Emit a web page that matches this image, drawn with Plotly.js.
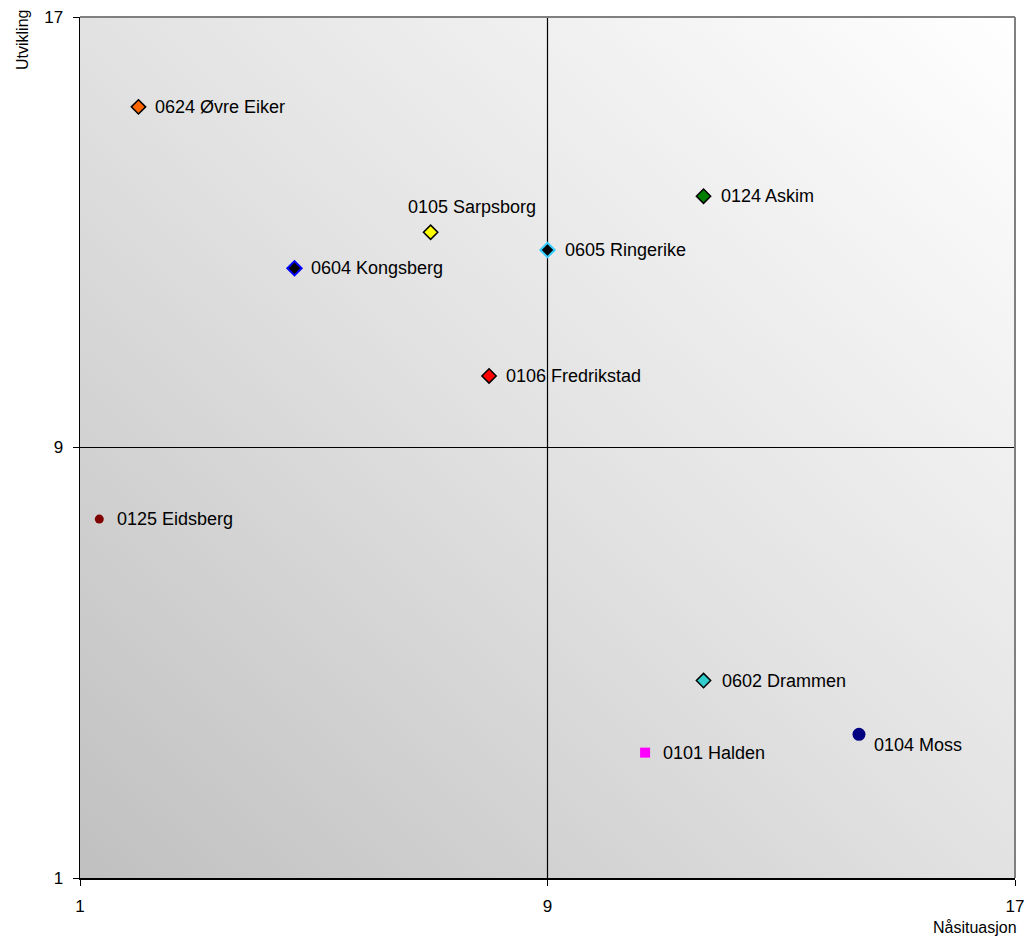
<!DOCTYPE html>
<html>
<head>
<meta charset="utf-8">
<script src="https://cdn.plot.ly/plotly-3.0.1.min.js"></script>
<style>html,body{margin:0;padding:0;background:#fff;}#chart{width:1030px;height:940px;}</style>
</head>
<body>
<div id="chart"></div>
<script>
// Data
const names = ["0624 Øvre Eiker","0124 Askim","0105 Sarpsborg","0605 Ringerike","0604 Kongsberg","0106 Fredrikstad","0125 Eidsberg","0602 Drammen","0104 Moss","0101 Halden"];
const nasituasjon = [2.0, 11.67, 7.0, 9.0, 4.67, 8.0, 1.33, 11.67, 14.33, 10.67];
const utvikling = [15.33, 13.67, 13.0, 12.67, 12.33, 10.33, 7.67, 4.67, 3.67, 3.33];
const tickVals = [1, 9, 17];
const tickLabels = ["1", "9", "17"];

// Styles
const symbols = ["diamond","diamond","diamond","diamond","diamond","diamond","circle","diamond","circle","square"];
const fills = ["#ff6600","#008000","#ffff00","#000000","#000000","#ff0000","#800000","#33cccc","#000080","#ff00ff"];
const lineColors = ["#000000","#000000","#000000","#33ccff","#0000ff","#000000","#800000","#000000","#000080","#ff00ff"];
const lineWidths = [1.5,1.5,1.5,2,2,1.5,0,1.5,0,0];
const sizes = [11,11,11,11,11,11,9,11,13,10];
// label offsets (px): [xshift, yshift, xanchor]
const labelOffsets = [[15,0,"left"],[15,0,"left"],[41,25,"center"],[15,0,"left"],[15,0,"left"],[15,0,"left"],[16,0,"left"],[16,0,"left"],[13,-11,"left"],[16,0,"left"]];

const FONT = "Liberation Sans, Arial, sans-serif";

const trace = {
  type: "scatter", mode: "markers",
  x: nasituasjon, y: utvikling, text: names,
  hoverinfo: "text",
  marker: {symbol: symbols, color: fills, size: sizes, opacity: 1, line: {color: lineColors, width: lineWidths}},
  showlegend: false,
  cliponaxis: false
};

const annotations = names.map((n, i) => ({
  x: nasituasjon[i], y: utvikling[i], xref: "x", yref: "y",
  text: n, showarrow: false,
  xanchor: labelOffsets[i][2], yanchor: "middle",
  xshift: labelOffsets[i][0], yshift: labelOffsets[i][1],
  font: {family: FONT, size: 18, color: "#000"}
}));
annotations.push({
  xref: "paper", yref: "paper", x: 0, y: 1, xshift: -58, yshift: 9,
  xanchor: "center", yanchor: "top", textangle: -90,
  text: "Utvikling", showarrow: false,
  font: {family: FONT, size: 16, color: "#000"}
});
annotations.push({
  xref: "paper", yref: "paper", x: 1, y: 0, xshift: 4, yshift: -39,
  xanchor: "right", yanchor: "top",
  text: "Nåsituasjon", showarrow: false,
  font: {family: FONT, size: 16, color: "#000"}
});

const gradSvg = '<svg xmlns="http://www.w3.org/2000/svg" width="935" height="861" viewBox="0 0 935 861" preserveAspectRatio="none">' +
  '<defs><linearGradient id="g" x1="0" y1="1" x2="1" y2="0">' +
  '<stop offset="0" stop-color="#c0c0c0"/><stop offset="0.5" stop-color="#e2e2e2"/><stop offset="1" stop-color="#ffffff"/></linearGradient></defs>' +
  '<rect width="935" height="861" fill="url(#g)"/></svg>';
const gradUri = "data:image/svg+xml;base64," + btoa(gradSvg);

const layout = {
  width: 1030, height: 940,
  margin: {l: 80, r: 15, t: 17, b: 62},
  paper_bgcolor: "#ffffff",
  plot_bgcolor: "rgba(0,0,0,0)",
  font: {family: FONT, size: 16, color: "#000"},
  xaxis: {
    range: [1, 17], tickvals: tickVals, ticktext: tickLabels,
    showgrid: false, zeroline: false,
    showline: true, linecolor: "#000", linewidth: 1.5,
    ticks: "outside", ticklen: 6, tickcolor: "#000", tickwidth: 1,
    tickfont: {family: FONT, size: 17, color: "#000"},
    ticklabelstandoff: 6,
    fixedrange: true
  },
  yaxis: {
    range: [1, 17], tickvals: tickVals, ticktext: tickLabels,
    showgrid: false, zeroline: false,
    showline: true, linecolor: "#000", linewidth: 1.5,
    ticks: "outside", ticklen: 6, tickcolor: "#000", tickwidth: 1,
    tickfont: {family: FONT, size: 17, color: "#000"},
    ticklabelstandoff: 6,
    fixedrange: true
  },
  images: [{
    source: gradUri, xref: "paper", yref: "paper",
    x: 0, y: 1, sizex: 1, sizey: 1, xanchor: "left", yanchor: "top",
    sizing: "stretch", layer: "below"
  }],
  shapes: [
    {type: "line", xref: "x", yref: "paper", x0: 9, x1: 9, y0: 0, y1: 1, line: {color: "#000", width: 1.2}, layer: "below"},
    {type: "line", xref: "paper", yref: "y", x0: 0, x1: 1, y0: 9, y1: 9, line: {color: "#000", width: 1.2}, layer: "below"},
    {type: "line", xref: "paper", yref: "paper", x0: 0, x1: 1, y0: 1, y1: 1, line: {color: "#808080", width: 2}},
    {type: "line", xref: "paper", yref: "paper", x0: 1, x1: 1, y0: 0, y1: 1, line: {color: "#808080", width: 2}}
  ],
  annotations: annotations
};

Plotly.newPlot("chart", [trace], layout, {displayModeBar: false, staticPlot: true});
</script>
</body>
</html>
